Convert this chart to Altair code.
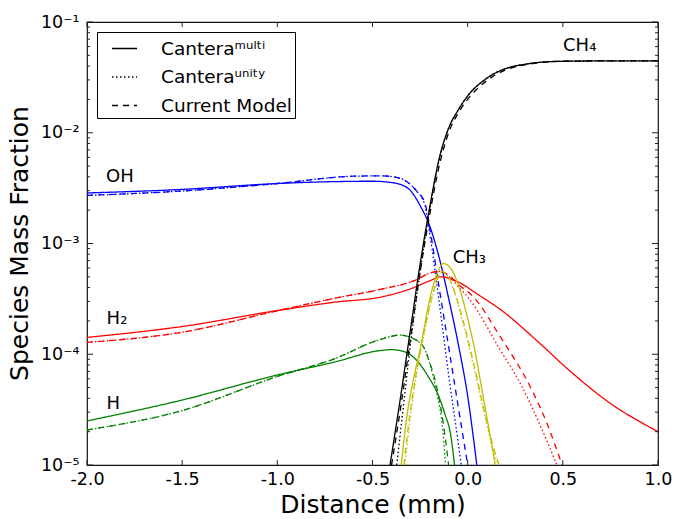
import altair as alt
import pandas as pd

FONT = "DejaVu Sans"

# ---------------- data ----------------
species_names = ["OH", "H2", "H", "CH3", "CH4"]
species_colors = ["#0000ff", "#ff0000", "#008000", "#bfbf00", "#000000"]
model_names = ["Canteraᵐᵘˡᵗⁱ", "Canteraᵘⁿⁱᵗʸ", "Current Model"]

# OH
oh_multi_x = [-2.0, -1.5, -1.0, -0.7, -0.5, -0.4, -0.35, -0.3, -0.25, -0.2, -0.15, -0.1, -0.05, 0.0, 0.048]
oh_multi_y = [2.86e-3, 3.08e-3, 3.48e-3, 3.62e-3, 3.65e-3, 3.55e-3, 3.4e-3, 3.0e-3, 2.2e-3, 1.45e-3, 7.5e-4, 3.2e-4, 1.25e-4, 4.2e-5, 1.0e-5]
oh_unity_x = [-2.0, -1.5, -1.0, -0.6, -0.45, -0.36, -0.3, -0.27, -0.224, -0.2, -0.15, -0.1, -0.05, -0.034]
oh_unity_y = [2.72e-3, 2.98e-3, 3.48e-3, 4.05e-3, 4.08e-3, 3.9e-3, 3.4e-3, 3.0e-3, 2.2e-3, 1.25e-3, 3.0e-4, 6.5e-5, 1.6e-5, 1.0e-5]
oh_model_x = [-2.0, -1.5, -1.0, -0.6, -0.45, -0.36, -0.3, -0.27, -0.224, -0.2, -0.15, -0.1, -0.05, 0.0]
oh_model_y = [2.72e-3, 2.98e-3, 3.48e-3, 4.05e-3, 4.08e-3, 3.9e-3, 3.4e-3, 3.0e-3, 2.3e-3, 1.4e-3, 4.0e-4, 1.17e-4, 3.4e-5, 1.0e-5]

# H2
h2_multi_x = [-2.0, -1.5, -1.0, -0.7, -0.45, -0.3, -0.2, -0.14, -0.04, 0.05, 0.17, 0.38, 0.52, 0.75, 1.0]
h2_multi_y = [1.42e-4, 1.78e-4, 2.48e-4, 2.95e-4, 3.3e-4, 3.9e-4, 4.6e-4, 5.0e-4, 4.4e-4, 3.5e-4, 2.55e-4, 1.25e-4, 7.5e-5, 3.6e-5, 2.0e-5]
h2_unity_x = [-2.0, -1.5, -1.0, -0.7, -0.46, -0.27, -0.2, -0.15, -0.1, -0.05, 0.012, 0.17, 0.275, 0.38, 0.469]
h2_unity_y = [1.28e-4, 1.58e-4, 2.47e-4, 3.2e-4, 3.85e-4, 4.7e-4, 5.4e-4, 5.6e-4, 5.1e-4, 4.1e-4, 3.1e-4, 1.1e-4, 5.5e-5, 2.3e-5, 1.0e-5]
h2_model_x = [-2.0, -1.5, -1.0, -0.7, -0.46, -0.27, -0.2, -0.15, -0.1, -0.05, 0.03, 0.17, 0.336, 0.42, 0.496]
h2_model_y = [1.28e-4, 1.58e-4, 2.47e-4, 3.2e-4, 3.85e-4, 4.7e-4, 5.4e-4, 5.6e-4, 5.2e-4, 4.3e-4, 3.3e-4, 1.45e-4, 4.8e-5, 2.3e-5, 1.0e-5]

# H
h_multi_x = [-2.0, -1.5, -1.0, -0.7, -0.46, -0.4, -0.33, -0.27, -0.2, -0.16, -0.12, -0.09, -0.069]
h_multi_y = [2.5e-5, 3.86e-5, 6.5e-5, 8.5e-5, 1.08e-4, 1.1e-4, 1.05e-4, 8.9e-5, 6.0e-5, 4.5e-5, 2.9e-5, 1.9e-5, 1.0e-5]
h_unity_x = [-2.0, -1.5, -1.0, -0.7, -0.46, -0.355, -0.3, -0.233, -0.2, -0.163, -0.13, -0.116]
h_unity_y = [2.07e-5, 3.1e-5, 6.3e-5, 9.1e-5, 1.36e-4, 1.49e-4, 1.42e-4, 1.17e-4, 8.3e-5, 4.5e-5, 2.0e-5, 1.0e-5]
h_model_x = [-2.0, -1.5, -1.0, -0.7, -0.46, -0.355, -0.3, -0.233, -0.2, -0.163, -0.13, -0.1]
h_model_y = [2.07e-5, 3.1e-5, 6.3e-5, 9.1e-5, 1.36e-4, 1.49e-4, 1.42e-4, 1.17e-4, 8.5e-5, 5.1e-5, 2.5e-5, 1.0e-5]

# CH3
ch3_multi_x = [-0.349, -0.32, -0.28, -0.25, -0.2, -0.16, -0.128, -0.09, -0.04, 0.0, 0.03, 0.075, 0.11, 0.145]
ch3_multi_y = [1.0e-5, 2.7e-5, 6.5e-5, 1.1e-4, 3.1e-4, 5.4e-4, 6.6e-4, 6.0e-4, 3.8e-4, 2.1e-4, 1.26e-4, 4.8e-5, 2.2e-5, 1.0e-5]
ch3_unity_x = [-0.33, -0.3, -0.26, -0.22, -0.18, -0.137, -0.1, -0.06, -0.02, 0.03, 0.08, 0.12, 0.16]
ch3_unity_y = [1.0e-5, 2.8e-5, 8.0e-5, 1.8e-4, 3.6e-4, 5.5e-4, 4.9e-4, 3.2e-4, 1.8e-4, 8.0e-5, 3.3e-5, 1.7e-5, 1.0e-5]
ch3_model_x = [-0.335, -0.3, -0.26, -0.22, -0.18, -0.137, -0.1, -0.06, -0.02, 0.03, 0.08, 0.12, 0.165]
ch3_model_y = [1.0e-5, 3.2e-5, 8.5e-5, 1.9e-4, 3.7e-4, 5.6e-4, 5.0e-4, 3.3e-4, 1.9e-4, 8.5e-5, 3.5e-5, 1.8e-5, 1.0e-5]

# CH4
ch4_multi_x = [-0.408, -0.35, -0.3, -0.25, -0.2, -0.15, -0.1, -0.05, 0.0, 0.1, 0.2, 0.3, 0.4, 0.5, 0.7, 1.0]
ch4_multi_y = [1.0e-5, 4.4e-5, 1.7e-4, 6.5e-4, 2.1e-3, 5.8e-3, 1.1e-2, 1.6e-2, 2.15e-2, 3.1e-2, 3.8e-2, 4.15e-2, 4.35e-2, 4.42e-2, 4.45e-2, 4.45e-2]
ch4_unity_x = [-0.373, -0.35, -0.3, -0.25, -0.2, -0.15, -0.1, -0.05, 0.0, 0.1, 0.2, 0.3, 0.4, 0.5, 0.7, 1.0]
ch4_unity_y = [1.0e-5, 2.2e-5, 1.25e-4, 5.5e-4, 2.0e-3, 5.7e-3, 1.1e-2, 1.6e-2, 2.15e-2, 3.1e-2, 3.8e-2, 4.15e-2, 4.35e-2, 4.42e-2, 4.45e-2, 4.45e-2]
ch4_model_x = [-0.40, -0.35, -0.3, -0.25, -0.2, -0.15, -0.1, -0.05, 0.0, 0.1, 0.2, 0.3, 0.4, 0.5, 0.7, 1.0]
ch4_model_y = [1.0e-5, 3.5e-5, 1.4e-4, 5.5e-4, 1.8e-3, 5.0e-3, 1.0e-2, 1.5e-2, 2.0e-2, 2.95e-2, 3.7e-2, 4.1e-2, 4.33e-2, 4.42e-2, 4.45e-2, 4.45e-2]

# species annotations
label_text = ["OH", "H₂", "H", "CH₃", "CH₄"]
label_x = [-1.9, -1.897, -1.897, -0.079, 0.501]
label_y = [4.0e-3, 2.08e-4, 3.56e-5, 7.4e-4, 6.07e-2]

# axis ticks
x_tick_values = [-2.0, -1.5, -1.0, -0.5, 0.0, 0.5, 1.0]
y_major_values = [1e-5, 1e-4, 1e-3, 1e-2, 1e-1]
y_minor_mantissas = [2, 3, 4, 5, 6, 7, 8, 9]
y_minor_decades = [1e-5, 1e-4, 1e-3, 1e-2]

# ---------------- build tables ----------------
series = [
    ("OH", 0, oh_multi_x, oh_multi_y), ("OH", 1, oh_unity_x, oh_unity_y), ("OH", 2, oh_model_x, oh_model_y),
    ("H2", 0, h2_multi_x, h2_multi_y), ("H2", 1, h2_unity_x, h2_unity_y), ("H2", 2, h2_model_x, h2_model_y),
    ("H", 0, h_multi_x, h_multi_y), ("H", 1, h_unity_x, h_unity_y), ("H", 2, h_model_x, h_model_y),
    ("CH3", 0, ch3_multi_x, ch3_multi_y), ("CH3", 1, ch3_unity_x, ch3_unity_y), ("CH3", 2, ch3_model_x, ch3_model_y),
    ("CH4", 0, ch4_multi_x, ch4_multi_y), ("CH4", 1, ch4_unity_x, ch4_unity_y), ("CH4", 2, ch4_model_x, ch4_model_y),
]
rows = []
for sp, mi, xs, ys in series:
    for i, (xv, yv) in enumerate(zip(xs, ys)):
        rows.append({"species": sp, "model": model_names[mi], "x": xv, "y": yv, "i": i,
                     "key": sp + "_" + str(mi)})
lines_df = pd.DataFrame(rows)

labels_df = pd.DataFrame({"text": label_text, "x": label_x, "y": label_y})
xt_df = pd.DataFrame({"x": x_tick_values})
ymaj_df = pd.DataFrame({"y": y_major_values})
ymin_df = pd.DataFrame({"y": [m * d for d in y_minor_decades for m in y_minor_mantissas]})

W, H = 571, 443
xscale = alt.Scale(domain=[-2.0, 1.0], nice=False, zero=False)
yscale = alt.Scale(type="log", domain=[1e-5, 1e-1], nice=False)

x_axis = alt.Axis(
    values=x_tick_values,
    labelExpr="(datum.value < 0 ? '-' : '') + format(abs(datum.value), '.1f')",
    labelFont=FONT, labelFontSize=17.5, labelColor="black", labelPadding=5,
    labelFlush=False, labelOverlap=False,
    ticks=False, tickSize=0, domain=False, grid=False,
    title="Distance (mm)", titleFont=FONT, titleFontSize=25, titleFontWeight="normal",
    titleColor="black", titleBaseline="alphabetic", titleY=47,
)
y_axis = alt.Axis(
    values=y_major_values,
    labelExpr="'10⁻' + ['⁰','¹','²','³','⁴','⁵','⁶'][round(-log(datum.value)/LN10)]",
    labelFont=FONT, labelFontSize=17.5, labelColor="black", labelPadding=8,
    labelFlush=False, labelOverlap=False,
    ticks=False, tickSize=0, domain=False, grid=False,
    title="Species Mass Fraction", titleFont=FONT, titleFontSize=25, titleFontWeight="normal",
    titleColor="black", titleAngle=270, titleBaseline="alphabetic", titleAlign="center",
    titleX=-60, titleY=221,
)

X = lambda: alt.X("x:Q", scale=xscale, axis=x_axis)
Y = lambda: alt.Y("y:Q", scale=yscale, axis=y_axis)

lines = alt.Chart(lines_df).mark_line(strokeWidth=1.3, clip=True, interpolate="monotone").encode(
    x=X(),
    y=Y(),
    color=alt.Color("species:N", scale=alt.Scale(domain=species_names, range=species_colors), legend=None),
    strokeDash=alt.StrokeDash(
        "model:N",
        scale=alt.Scale(domain=model_names, range=[[1, 0], [1.5, 2.5], [6, 5]]),
        legend=alt.Legend(
            title=None, orient="none", legendX=10, legendY=10, direction="vertical",
            strokeColor="black", fillColor="white", padding=3, cornerRadius=0,
            symbolType="stroke", symbolSize=625, symbolStrokeWidth=1.5,
            symbolStrokeColor="black", symbolOffset=11,
            labelFont=FONT, labelFontSize=18.5, labelColor="black", labelOffset=23,
            labelLimit=300, rowPadding=5.5,
        ),
    ),
    detail="key:N",
    order="i:Q",
)

texts = alt.Chart(labels_df).mark_text(
    font=FONT, fontSize=18, color="black", align="left", baseline="middle"
).encode(x=X(), y=Y(), text="text:N")

tick_color = "#222222"
xt_bottom = alt.Chart(xt_df).mark_rule(color=tick_color, strokeWidth=1).encode(
    x=X(), y=alt.value(H), y2=alt.value(H - 5))
xt_top = alt.Chart(xt_df).mark_rule(color=tick_color, strokeWidth=1).encode(
    x=X(), y=alt.value(0), y2=alt.value(5))
ymaj_left = alt.Chart(ymaj_df).mark_rule(color=tick_color, strokeWidth=1).encode(
    y=Y(), x=alt.value(0), x2=alt.value(6))
ymaj_right = alt.Chart(ymaj_df).mark_rule(color=tick_color, strokeWidth=1).encode(
    y=Y(), x=alt.value(W), x2=alt.value(W - 6))
ymin_left = alt.Chart(ymin_df).mark_rule(color=tick_color, strokeWidth=1).encode(
    y=Y(), x=alt.value(0), x2=alt.value(3))
ymin_right = alt.Chart(ymin_df).mark_rule(color=tick_color, strokeWidth=1).encode(
    y=Y(), x=alt.value(W), x2=alt.value(W - 3))

chart = alt.layer(
    lines, xt_bottom, xt_top, ymaj_left, ymaj_right, ymin_left, ymin_right, texts
).properties(
    width=W, height=H,
    autosize=alt.AutoSizeParams(type="none"),
    padding={"left": 87, "top": 22, "right": 17, "bottom": 54},
    background="white",
).configure_view(
    stroke="#111111", strokeWidth=1.2
)

chart.save("out.html", embed_options={"renderer": "svg", "actions": False})
